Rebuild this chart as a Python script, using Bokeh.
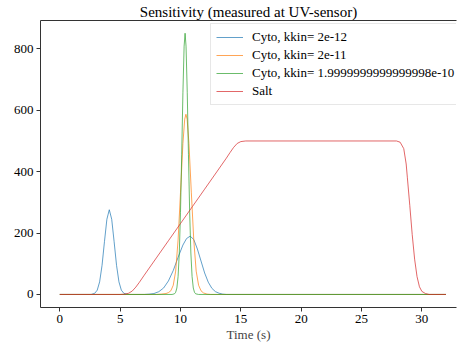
from bokeh.plotting import figure
from bokeh.models import Range1d, FixedTicker, Legend, LegendItem, LinearAxis
from bokeh.embed import file_html
from bokeh.resources import INLINE

# ---- data ----
blue_x = [0, 2.6, 2.9, 3.1, 3.3, 3.5, 3.7, 3.9, 4.1, 4.3, 4.5, 4.7, 4.9, 5.1, 5.3, 5.6,
          7.0, 7.4, 7.8, 8.2, 8.6, 9.0, 9.4, 9.8, 10.2, 10.5, 10.8, 11.1, 11.4, 11.7,
          12.0, 12.3, 12.6, 12.9, 13.2, 13.5, 13.8, 32]
blue_y = [0, 0, 4, 14, 41, 95, 172, 245, 276, 245, 172, 95, 41, 14, 4, 0,
          0, 1, 3, 9, 21, 44, 78, 121, 161, 182, 190, 179, 148, 109,
          70, 40, 20, 9, 4, 1, 0, 0]

orange_x = [0, 8.0, 8.4, 8.8, 9.0, 9.2, 9.4, 9.6, 9.8, 10.0, 10.2, 10.35, 10.45, 10.55,
            10.7, 10.9, 11.1, 11.3, 11.5, 11.7, 11.9, 12.2, 12.5, 32]
orange_y = [0, 0, 1, 3, 6, 12, 30, 76, 177, 331, 492, 571, 587, 571,
            492, 331, 177, 76, 30, 12, 5, 1, 0, 0]

green_x = [0, 9.3, 9.5, 9.6, 9.7, 9.8, 9.9, 10.0, 10.1, 10.2, 10.3, 10.38, 10.46, 10.56,
           10.66, 10.76, 10.86, 10.96, 11.06, 11.16, 11.26, 11.5, 32]
green_y = [0, 0, 2, 7, 21, 58, 135, 268, 455, 657, 809, 851, 809, 657,
           455, 268, 135, 58, 21, 7, 2, 0, 0]

salt_x = [0, 5.0, 5.4, 5.7, 6.0, 6.3, 6.6, 7.0, 8.0, 9.0, 10.0, 11.0, 12.0, 13.0, 13.8,
          14.1, 14.4, 14.7, 15.0, 15.4, 27.9, 28.2, 28.5, 28.7, 28.8, 29.0, 29.2, 29.4,
          29.6, 29.8, 30.0, 30.3, 30.6, 32]
salt_y = [0, 0, 1, 4, 11, 24, 40, 63, 119, 175, 231, 287, 343, 399, 444,
          462, 479, 492, 498, 500, 500, 496, 475, 425, 380, 290, 195, 115,
          58, 25, 10, 3, 0, 0]

labels = ["Cyto, kkin= 2e-12", "Cyto, kkin= 2e-11",
          "Cyto, kkin= 1.9999999999999998e-10", "Salt"]
colors = ["#1f77b4", "#ff7f0e", "#2ca02c", "#d62728"]
x_ticks = [0, 5, 10, 15, 20, 25, 30]
y_ticks = [0, 200, 400, 600, 800]

FONT = "Liberation Serif"

p = figure(frame_width=416, frame_height=287, output_backend="svg",
           toolbar_location=None, min_border_left=40, min_border_right=2,
           min_border_top=0, min_border_bottom=0,
           x_range=Range1d(-1.6, 32.87), y_range=Range1d(-42.5, 892.5),
           title="Sensitivity (measured at UV-sensor)")
p.title.align = "center"
p.title.text_font = FONT
p.title.text_font_size = "15px"
p.title.text_font_style = "normal"
p.title.text_color = "#000000"
p.title.standoff = 2
p.xgrid.visible = False
p.ygrid.visible = False
p.outline_line_color = None
p.background_fill_color = "white"
p.border_fill_color = "white"

for ax in (p.xaxis[0], p.yaxis[0]):
    ax.major_label_text_font = FONT
    ax.major_label_text_font_size = "13px"
    ax.major_label_text_color = "#000000"
    ax.axis_line_color = "#333333"
    ax.major_tick_line_color = "#333333"
    ax.major_tick_out = 4
    ax.major_tick_in = 0
    ax.minor_tick_line_color = None
    ax.major_label_standoff = 3
p.xaxis.ticker = FixedTicker(ticks=x_ticks)
p.yaxis.ticker = FixedTicker(ticks=y_ticks)
p.xaxis.axis_label = "Time (s)"
p.xaxis.axis_label_text_font = FONT
p.xaxis.axis_label_text_font_size = "13px"
p.xaxis.axis_label_text_font_style = "normal"
p.xaxis.axis_label_standoff = 1

top = LinearAxis(major_tick_line_color=None, minor_tick_line_color=None,
                 major_label_text_font_size="0px", axis_line_color="#333333",
                 ticker=FixedTicker(ticks=[]))
p.add_layout(top, "above")

series = [(blue_x, blue_y), (orange_x, orange_y), (green_x, green_y), (salt_x, salt_y)]
items = []
for (xs, ys), c, lab in zip(series, colors, labels):
    r = p.line(xs, ys, line_color=c, line_width=1, line_alpha=0.7)
    items.append(LegendItem(label=lab, renderers=[r]))

legend = Legend(items=items, location=(170, 202))
legend.label_text_font = FONT
legend.label_text_font_size = "13px"
legend.label_text_color = "#000000"
legend.glyph_width = 27
legend.glyph_height = 14
legend.label_height = 14
legend.label_standoff = 9
legend.spacing = 2
legend.padding = 5
legend.margin = 0
legend.border_line_color = "#d0d0d0"
legend.background_fill_alpha = 0.8
p.add_layout(legend)

open("out.html", "w").write(file_html(p, INLINE))
